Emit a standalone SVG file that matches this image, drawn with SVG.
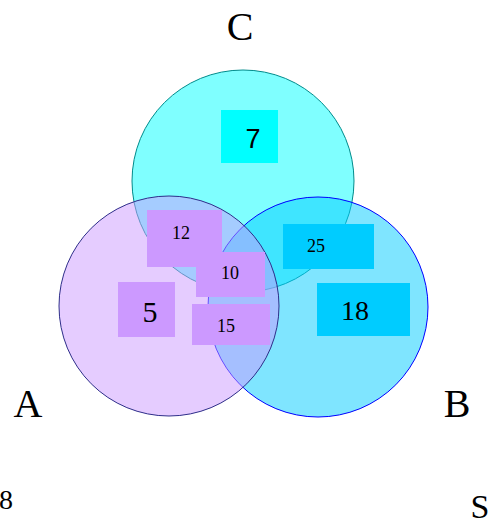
<svg xmlns="http://www.w3.org/2000/svg" width="493" height="524" viewBox="0 0 493 524">
<style>
.lbl{font-family:"Liberation Serif","Times New Roman",serif;fill:#000;text-anchor:middle}
.sans{font-family:"Liberation Sans",Arial,sans-serif;fill:#000;text-anchor:middle}
.set{fill-opacity:0.5;stroke-width:1}
.pbox{fill:#CC99FF}
.bbox{fill:#00CCFF}
</style>
<rect width="493" height="524" fill="#fff"/>
<g id="sets">
<g id="set-C"><circle class="set" cx="243" cy="181" r="111" fill="#00FFFF" stroke="#008B8B"/></g>
<g id="set-B"><circle class="set" cx="318" cy="307" r="110" fill="#00CCFF" stroke="#0000FF"/></g>
<g id="set-A"><circle class="set" cx="169" cy="306" r="110" fill="#CC99FF" stroke="#2E2E8A"/></g>
</g>
<g id="connectors"></g>
<g id="region-7"><rect x="221" y="110" width="57" height="53" fill="#00FFFF"/><text class="sans" x="253" y="148" font-size="27">7</text></g>
<g id="region-12"><rect class="pbox" x="147" y="210" width="75" height="57"/><text class="lbl" x="181" y="239" font-size="18">12</text></g>
<g id="region-10"><rect class="pbox" x="196" y="252" width="69" height="45"/><text class="lbl" x="230" y="279" font-size="18">10</text></g>
<g id="region-15"><rect class="pbox" x="192" y="304" width="78" height="41"/><text class="lbl" x="226" y="332" font-size="18">15</text></g>
<g id="region-5"><rect class="pbox" x="118" y="282" width="57" height="55"/><text class="lbl" x="150" y="322" font-size="30">5</text></g>
<g id="region-25"><rect class="bbox" x="283" y="224" width="91" height="45"/><text class="lbl" x="316" y="252" font-size="18">25</text></g>
<g id="region-18"><rect class="bbox" x="317" y="283" width="93" height="53"/><text class="lbl" x="355" y="320" font-size="28">18</text></g>
<g id="label-C"><text class="lbl" x="240" y="40" font-size="40">C</text></g>
<g id="label-A"><text class="lbl" x="28" y="417" font-size="40">A</text></g>
<g id="label-B"><text class="lbl" x="457" y="417" font-size="40">B</text></g>
<g id="label-8"><text class="lbl" x="6" y="509" font-size="28">8</text></g>
<g id="label-S"><text class="lbl" x="480" y="518" font-size="34">S</text></g>
</svg>
